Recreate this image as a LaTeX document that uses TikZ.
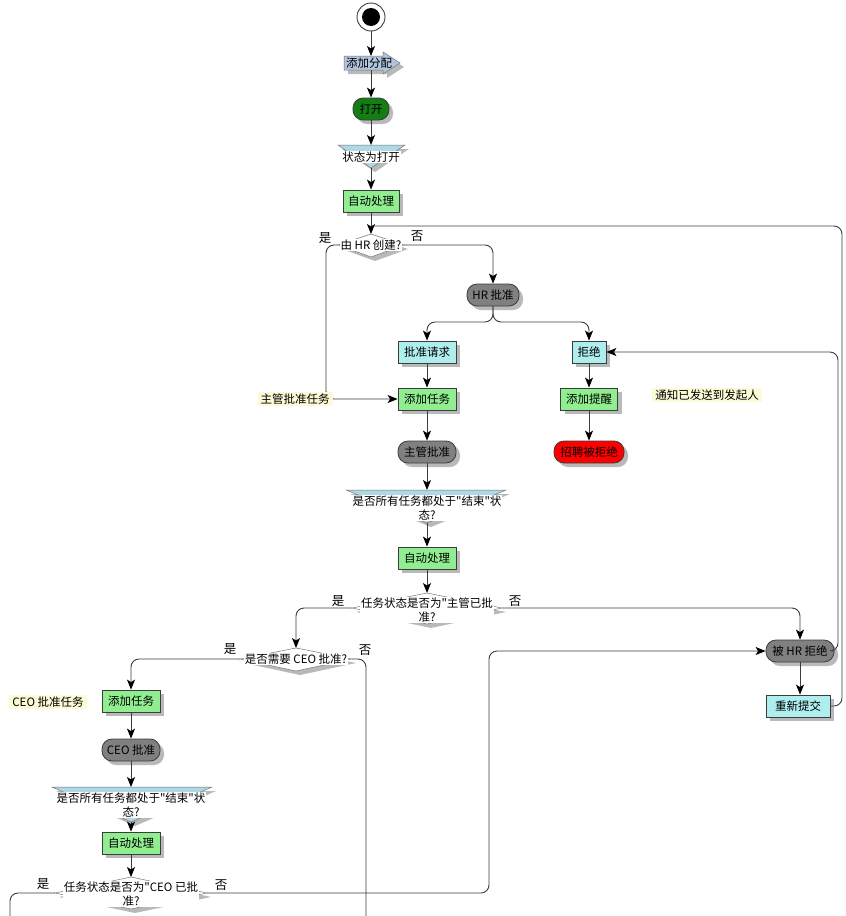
\documentclass[tikz,border=0pt]{standalone}
\usepackage{fontspec}
\setmainfont{Noto Sans CJK SC}
\newfontfamily\plainq{Noto Sans CJK SC}
\usetikzlibrary{shadows,arrows.meta}
\definecolor{linec}{RGB}{60,60,60}
\definecolor{shadowc}{RGB}{185,185,185}
\definecolor{actg}{RGB}{144,238,144}
\definecolor{cyanc}{RGB}{175,238,238}
\definecolor{grayc}{RGB}{128,128,128}
\definecolor{darkg}{RGB}{20,125,20}
\definecolor{steelc}{RGB}{176,196,222}
\definecolor{triblue}{RGB}{173,216,230}
\definecolor{notec}{RGB}{251,251,215}
\newcommand{\myfs}{\fontsize{11.5}{14}\selectfont}
\newcommand{\mylfs}{\fontsize{12.5}{14}\selectfont}
\newcommand{\myq}{{\plainq\char34}}
\begin{document}
\begin{tikzpicture}[x=1pt,y=-1pt,
  line/.style={draw=linec,line width=0.9pt},
  arr/.style={line,-{Stealth[length=10pt,width=8pt,inset=2.5pt,fill=black,color=black]}},
  shad/.style={drop shadow={shadow xshift=4pt,shadow yshift=-4pt,fill=shadowc,opacity=1}},
  box/.style={draw=linec,line width=0.8pt,minimum height=22pt,inner sep=0pt,font=\myfs,shad},
  actbox/.style={box,fill=actg},
  cybox/.style={box,fill=cyanc},
  grbox/.style={box,fill=grayc,rounded corners=10pt},
  notebox/.style={fill=notec,inner xsep=3pt,inner ysep=2pt,font=\myfs},
  lbl/.style={font=\mylfs,inner sep=0pt},
  wtxt/.style={fill=white,inner sep=1pt,font=\myfs,align=center},
  poly/.style={draw=linec!70,line width=0.5pt}
]
\fill[white] (0,0) rectangle (846,916);
\useasboundingbox (0,0) rectangle (846,916);

% start
\node[circle,draw=linec,line width=0.9pt,fill=white,minimum size=28pt,inner sep=0pt] (start) at (371,17) {};
\node[circle,fill=black,minimum size=18pt,inner sep=0pt] (startin) at (371,17) {};

% signal 添加分配
\fill[shadowc] (348,60) -- (387,60) -- (387,56) -- (404,67) -- (387,78) -- (387,74) -- (348,74) -- cycle;
\draw[poly,fill=steelc] (344,56) -- (383,56) -- (383,52) -- (400,63) -- (383,74) -- (383,70) -- (344,70) -- cycle;
\node[font=\myfs,inner sep=0pt] (assign) at (369,63) {添加分配};
\coordinate (assignN) at (371,56);
\coordinate (assignS) at (371,70);

\node[box,fill=darkg,rounded corners=10pt,minimum width=36pt] (open) at (371,109) {打开};

% triangle 1
\fill[shadowc] (342,149) -- (409,149) -- (375,172) -- cycle;
\draw[poly,fill=triblue] (338,145) -- (405,145) -- (371,168) -- cycle;
\node[wtxt] (t1) at (371,157) {状态为打开};
\coordinate (t1top) at (371,145);
\coordinate (t1tip) at (371,168);

\node[actbox,minimum width=56pt] (auto1) at (371,201) {自动处理};

% diamond 1
\fill[shadowc] (375,238) -- (408,249) -- (375,261) -- (342,249) -- cycle;
\draw[poly,fill=white] (371,234) -- (404,245) -- (371,257) -- (338,245) -- cycle;
\node[wtxt] (d1) at (371,245) {由 HR 创建?};
\coordinate (d1t) at (371,234);
\coordinate (d1l) at (338,245);
\coordinate (d1r) at (404,245);

\node[grbox,minimum width=52pt] (hr) at (493,295) {HR 批准};
\node[cybox,minimum width=58pt] (req) at (427,352) {批准请求};
\node[cybox,minimum width=34pt] (rej) at (589,352) {拒绝};
\node[actbox,minimum width=58pt] (add1) at (427,399) {添加任务};
\node[grbox,minimum width=58pt] (sup) at (427,452) {主管批准};
\node[actbox,minimum width=57pt] (remind) at (589,399) {添加提醒};
\node[box,fill=red,rounded corners=10pt,minimum width=70pt] (recrej) at (589,452) {招聘被拒绝};

% triangle 2
\fill[shadowc] (350,494) -- (510,494) -- (431,527) -- cycle;
\draw[poly,fill=triblue] (346,490) -- (506,490) -- (427,523) -- cycle;
\node[wtxt] (t2) at (427,508) {是否所有任务都处于\myq{}结束\myq{}状\\态?};
\coordinate (t2top) at (427,490);
\coordinate (t2tip) at (427,523);

\node[actbox,minimum width=58pt] (auto2) at (427,558) {自动处理};

% diamond 2
\fill[shadowc] (431,597) -- (506,612) -- (431,628) -- (356,612) -- cycle;
\draw[poly,fill=white] (427,593) -- (502,608) -- (427,624) -- (352,608) -- cycle;
\node[wtxt] (d2) at (427,610) {任务状态是否为\myq{}主管已批\\准?};
\coordinate (d2t) at (427,593);
\coordinate (d2l) at (352,608);
\coordinate (d2r) at (502,608);

\node[grbox,minimum width=68pt] (hrrej) at (800,651) {被 HR 拒绝};
\node[cybox,minimum width=64pt] (resub) at (798,706) {重新提交};

% diamond 3
\fill[shadowc] (300,652) -- (356,663) -- (300,675) -- (244,663) -- cycle;
\draw[poly,fill=white] (296,648) -- (352,659) -- (296,671) -- (240,659) -- cycle;
\node[wtxt] (d3) at (296,659) {是否需要 CEO 批准?};
\coordinate (d3t) at (296,648);
\coordinate (d3l) at (240,659);
\coordinate (d3r) at (352,659);
\coordinate (off1) at (366,925);

\node[actbox,minimum width=58pt] (add2) at (131,701) {添加任务};
\node[grbox,minimum width=58pt] (ceo) at (131,750) {CEO 批准};

% triangle 3
\fill[shadowc] (56,791) -- (216,791) -- (135,826) -- cycle;
\draw[poly,fill=triblue] (52,787) -- (212,787) -- (131,822) -- cycle;
\node[wtxt] (t3) at (131,805) {是否所有任务都处于\myq{}结束\myq{}状\\态?};
\coordinate (t3top) at (131,787);
\coordinate (t3tip) at (131,822);

\node[actbox,minimum width=58pt] (auto3) at (131,843) {自动处理};

% diamond 4
\fill[shadowc] (135,881) -- (211,897) -- (135,913) -- (59,897) -- cycle;
\draw[poly,fill=white] (131,877) -- (207,893) -- (131,909) -- (55,893) -- cycle;
\node[wtxt] (d4) at (131,894) {任务状态是否为\myq{}CEO 已批\\准?};
\coordinate (d4t) at (131,877);
\coordinate (d4l) at (55,893);
\coordinate (d4r) at (207,893);
\coordinate (off2) at (10,925);

% connectors
\draw[arr] (start) -- (assignN);
\draw[arr] (assignS) -- (open);
\draw[arr] (open) -- (t1top);
\draw[arr] (t1tip) -- (auto1);
\draw[arr] (auto1) -- (d1t);
\draw[arr,rounded corners=8pt] (d1l) -- (326,245) -- (326,399) -- (add1.west);
\draw[arr,rounded corners=8pt] (d1r) -- (493,245) -- (hr.north);
\draw[arr,rounded corners=8pt] (hr.south) -- (493,322) -| (req.north);
\draw[arr,rounded corners=8pt] (hr.south) -- (493,322) -| (rej.north);
\draw[arr] (req) -- (add1);
\draw[arr] (add1) -- (sup);
\draw[arr] (sup) -- (t2top);
\draw[arr] (t2tip) -- (auto2);
\draw[arr] (auto2) -- (d2t);
\draw[arr] (rej) -- (remind);
\draw[arr] (remind) -- (recrej);
\draw[arr,rounded corners=8pt] (d2l) -- (296,608) -- (d3t);
\draw[arr,rounded corners=8pt] (d2r) -- (800,608) -- (hrrej.north);
\draw[arr] (hrrej.south) -- (hrrej.south |- resub.north);
\draw[arr,rounded corners=8pt] (hrrej.east) -- (838,651) -- (838,352) -- (rej.east);
\draw[line,rounded corners=8pt] (resub.east) -- (842,706) -- (842,226) -- (371,226);
\draw[arr,rounded corners=8pt] (d3l) -- (131,659) -- (add2.north);
\draw[line,rounded corners=8pt] (d3r) -- (366,659) -- (off1);
\draw[arr] (add2) -- (ceo);
\draw[arr] (ceo) -- (t3top);
\draw[arr] (t3tip) -- (auto3);
\draw[arr] (auto3) -- (d4t);
\draw[line,rounded corners=8pt] (d4l) -- (10,893) -- (off2);
\draw[arr,rounded corners=8pt] (d4r) -- (489,893) -- (489,651) -- (hrrej.west);

% notes
\node[notebox] (note1) at (295,399) {主管批准任务};
\node[notebox] (note2) at (707,395) {通知已发送到发起人};
\node[notebox] (note3) at (48,702) {CEO 批准任务};

% branch labels
\node[lbl] (y1) at (325,238) {是};
\node[lbl] (n1) at (417,236) {否};
\node[lbl] (y2) at (338,601) {是};
\node[lbl] (n2) at (515,601) {否};
\node[lbl] (y3) at (230,649) {是};
\node[lbl] (n3) at (365,650) {否};
\node[lbl] (y4) at (43,884) {是};
\node[lbl] (n4) at (221,885) {否};
\end{tikzpicture}
\end{document}
